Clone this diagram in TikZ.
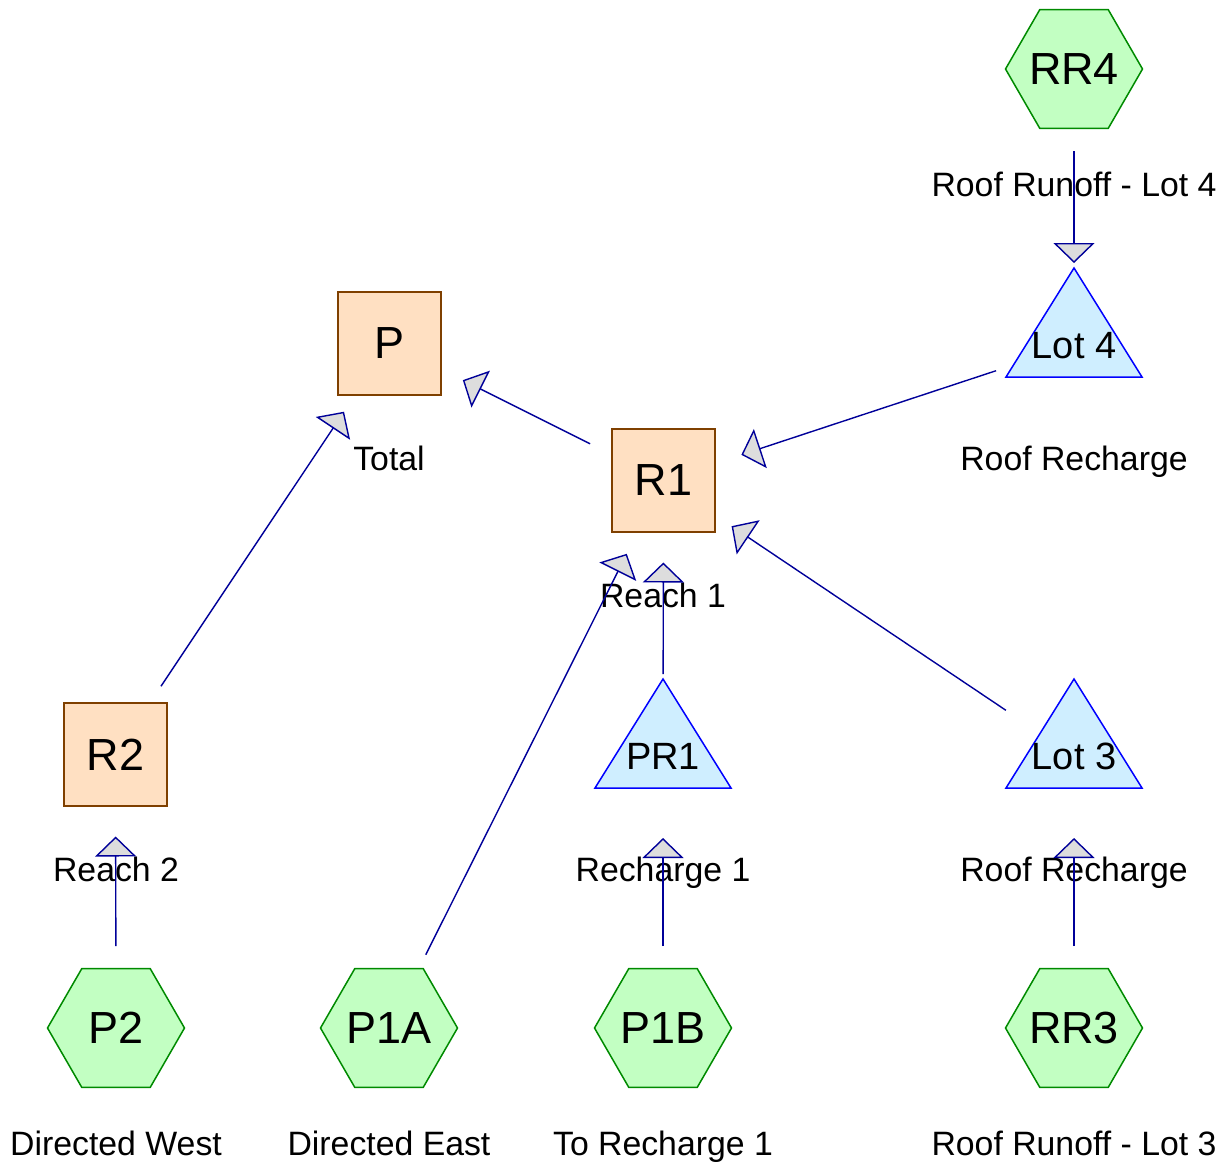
\documentclass[tikz,border=0pt]{standalone}
\usepackage{fontspec}
\setmainfont{Liberation Sans}
\usetikzlibrary{shapes.geometric,arrows.meta}
\definecolor{sqfill}{HTML}{FFE0C2}
\definecolor{sqdraw}{HTML}{7F4000}
\definecolor{hexfill}{HTML}{C2FFC2}
\definecolor{hexdraw}{HTML}{008A00}
\definecolor{trifill}{HTML}{CFEEFF}
\definecolor{tridraw}{HTML}{0000FF}
\definecolor{edgec}{HTML}{000099}
\definecolor{tipfill}{HTML}{DDDDDD}
\newcommand{\zw}[1]{\makebox[0pt]{#1}}
\tikzset{
  sqbox/.style={draw=sqdraw,fill=sqfill,line width=1.5pt,minimum size=103pt,inner sep=0pt,outer sep=0pt,font=\fontsize{45}{45}\selectfont,text depth=0pt},
  hexbox/.style={regular polygon,regular polygon sides=6,draw=hexdraw,fill=hexfill,line width=1.5pt,minimum size=137pt,inner sep=0pt,outer sep=0pt,font=\fontsize{45}{45}\selectfont,text depth=0pt},
  tribox/.style={draw=tridraw,fill=trifill,line width=1.5pt,line join=miter},
  tritext/.style={inner sep=0pt,outer sep=0pt,font=\fontsize{38}{38}\selectfont,text depth=0pt},
  lbl/.style={anchor=base,inner sep=0pt,font=\fontsize{33.8}{33.8}\selectfont},
  conn/.style={draw=edgec,line width=1.4pt,shorten <=82pt,shorten >=82pt,-{Triangle[length=20pt,width=41pt,fill=tipfill]}}
}
\begin{document}
\begin{tikzpicture}[x=1pt,y=-1pt]
\useasboundingbox (0,0) rectangle (1229,1164);
% squares
\node[sqbox] (P) at (389.5,343.5) {P};
\node[sqbox] (R1) at (663.5,480.5) {R1};
\node[sqbox] (R2) at (115.5,754.5) {R2};
% hexagons
\node[hexbox] (RR4) at (1074,69) {\zw{RR4}};
\node[hexbox] (P2) at (116,1028) {\zw{P2}};
\node[hexbox] (P1A) at (389,1028) {\zw{P1A}};
\node[hexbox] (P1B) at (663,1028) {\zw{P1B}};
\node[hexbox] (RR3) at (1074,1028) {\zw{RR3}};
% triangles
\foreach \n/\x/\y/\t in {Lot4/1074/345/Lot 4,PR1/663/756/PR1,Lot3/1074/756/Lot 3}{
  \draw[tribox] (\x,\y) ++(0,-77) -- ++(68,109) -- ++(-136,0) -- cycle;
  \node[tritext] (\n) at (\x,\y) {\t};
}
% labels
\node[lbl] (lRR4) at (1074,196) {Roof Runoff - Lot 4};
\node[lbl] (lP) at (389,470) {Total};
\node[lbl] (lLot4) at (1074,470) {Roof Recharge};
\node[lbl] (lR1) at (663,607) {Reach 1};
\node[lbl] (lR2) at (116,881) {Reach 2};
\node[lbl] (lPR1) at (663,881) {Recharge 1};
\node[lbl] (lLot3) at (1074,881) {Roof Recharge};
\node[lbl] (lP2) at (116,1155) {Directed West};
\node[lbl] (lP1A) at (389,1155) {Directed East};
\node[lbl] (lP1B) at (663,1155) {To Recharge 1};
\node[lbl] (lRR3) at (1074,1155) {Roof Runoff - Lot 3};
% connectors
\draw[conn] (RR4.center) -- (Lot4.center);
\draw[conn] (Lot4.center) -- (R1.center);
\draw[conn] (R1.center) -- (P.center);
\draw[conn] (R2.center) -- (P.center);
\draw[conn] (P1A.center) -- (R1.center);
\draw[conn] (PR1.center) -- (R1.center);
\draw[conn] (Lot3.center) -- (R1.center);
\draw[conn] (P2.center) -- (R2.center);
\draw[conn] (P1B.center) -- (PR1.center);
\draw[conn] (RR3.center) -- (Lot3.center);
\end{tikzpicture}
\end{document}
